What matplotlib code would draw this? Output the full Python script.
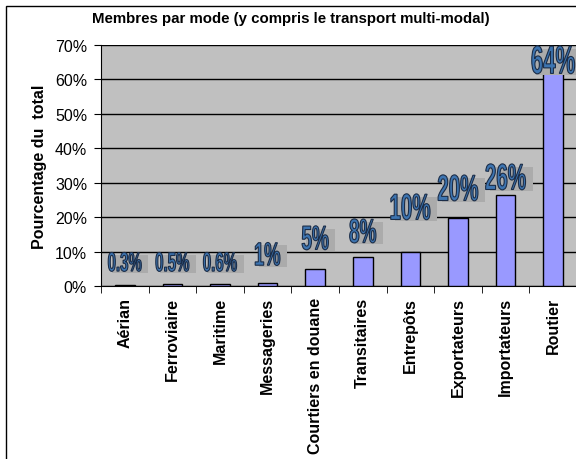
import numpy as np
import matplotlib.pyplot as plt
import matplotlib.transforms as mtransforms
from matplotlib.textpath import TextPath
from matplotlib.patches import PathPatch, Rectangle
from matplotlib.font_manager import FontProperties

# Data
categories = ['Aérian', 'Ferroviaire', 'Maritime', 'Messageries', 'Courtiers en douane',
              'Transitaires', 'Entrepôts', 'Exportateurs', 'Importateurs', 'Routier']
values = [0.3, 0.5, 0.6, 1.0, 5.0, 8.5, 9.8, 19.8, 26.5, 62.0]
labels = ['0.3%', '0.5%', '0.6%', '1%', '5%', '8%', '10%', '20%', '26%', '64%']
# centre height of each data label (in % units) and its glyph height in pixels
label_y = [7.0, 7.0, 7.0, 9.3, 14.0, 16.0, 23.0, 28.5, 31.7, 65.7]
label_h = [19, 19, 19, 23, 24, 24, 26, 26, 26, 28]

plt.rcParams['font.family'] = ['Liberation Sans', 'DejaVu Sans']

fig = plt.figure(figsize=(5.76, 4.6), dpi=100)
ax = fig.add_axes([101/576, 1-287/460, 476/576, 241/460])
ax.set_facecolor('#C0C0C0')

x = np.arange(len(categories))
ax.bar(x, values, width=0.41, color='#9999FF', edgecolor='black', linewidth=1, zorder=3)

ax.set_xlim(-0.5, len(categories) - 0.5)
ax.set_ylim(0, 70)
ax.set_yticks(np.arange(0, 71, 10))
ax.set_yticklabels([f'{v}%' for v in range(0, 71, 10)], fontsize=11.5)
ax.yaxis.grid(True, color='black', linewidth=1)
ax.set_axisbelow(True)

ax.set_xticks(x)
ax.set_xticklabels(categories, rotation=90, fontsize=11.5, fontweight='bold')
ax.set_xticks(np.arange(-0.5, len(categories)), minor=True)
ax.tick_params(axis='x', which='major', length=0, pad=8)
ax.tick_params(axis='x', which='minor', length=5, direction='out')
ax.tick_params(axis='y', length=5, direction='out', pad=5)

for s in ['top', 'right']:
    ax.spines[s].set_visible(False)
ax.spines['left'].set_color('black')
ax.spines['bottom'].set_color('black')

ax.set_ylabel('Pourcentage du  total', fontsize=11.5, fontweight='bold', labelpad=6)
fig.text(0.505, 1-19/460, 'Membres par mode (y compris le transport multi-modal)',
         ha='center', va='center', fontsize=10.8, fontweight='bold')

# condensed, outlined data labels with grey shadow box
prop = FontProperties(family='Liberation Sans', weight='bold')
for xi, yi, lab, hh in zip(x, label_y, labels, label_h):
    tp = TextPath((0, 0), lab, size=20, prop=prop)
    bb = tp.get_extents()
    sy = hh / bb.height
    sx = sy * 0.56
    w, h = bb.width * sx, bb.height * sy * 0.85
    place = mtransforms.ScaledTranslation(xi, yi, ax.transData)
    box = Rectangle((-w/2 + 4, -h/2 - 3), w + 3, h + 2, transform=place,
                    facecolor='#ABABAB', edgecolor='none', zorder=4, clip_on=False)
    ax.add_patch(box)
    t = (mtransforms.Affine2D().translate(-bb.x0 - bb.width/2, -bb.y0 - bb.height/2)
         .scale(sx, sy) + place)
    patch = PathPatch(tp, transform=t, facecolor='#3D74B0', edgecolor='#1B2D48',
                      linewidth=0.8, zorder=5, clip_on=False)
    ax.add_patch(patch)

# outer chart border
fig.patches.append(Rectangle((6/576, -0.01), 1.0, (460-7)/460 + 0.01,
                             transform=fig.transFigure, fill=False,
                             edgecolor='black', linewidth=1))

fig.savefig('out.png', dpi=100)
